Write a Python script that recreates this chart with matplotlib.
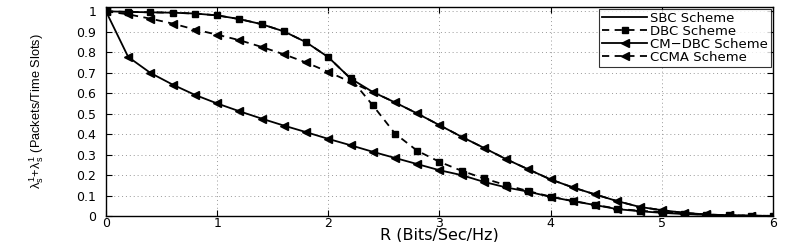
import matplotlib
matplotlib.use("Agg")
import matplotlib.pyplot as plt
import numpy as np

R = [0.0, 0.2, 0.4, 0.6, 0.8, 1.0, 1.2, 1.4, 1.6, 1.8, 2.0, 2.2, 2.4, 2.6, 2.8, 3.0,
     3.2, 3.4, 3.6, 3.8, 4.0, 4.2, 4.4, 4.6, 4.8, 5.0, 5.2, 5.4, 5.6, 5.8, 6.0]

sbc = [1.0, 0.997, 0.995, 0.993, 0.989, 0.980, 0.962, 0.937, 0.902, 0.849, 0.776, 0.672,
       0.606, 0.555, 0.501, 0.444, 0.387, 0.333, 0.278, 0.228, 0.179, 0.140, 0.106, 0.073,
       0.045, 0.029, 0.016, 0.008, 0.004, 0.002, 0.001]

dbc = [1.0, 0.997, 0.995, 0.993, 0.989, 0.980, 0.962, 0.937, 0.902, 0.849, 0.776, 0.672,
       0.541, 0.403, 0.319, 0.265, 0.221, 0.184, 0.151, 0.122, 0.095, 0.074, 0.055, 0.036,
       0.026, 0.020, 0.012, 0.007, 0.004, 0.002, 0.001]

cmdbc = [1.0, 0.777, 0.699, 0.642, 0.592, 0.550, 0.512, 0.476, 0.442, 0.410, 0.377, 0.346,
         0.314, 0.284, 0.254, 0.224, 0.200, 0.167, 0.140, 0.119, 0.094, 0.073, 0.054, 0.034,
         0.024, 0.016, 0.010, 0.006, 0.003, 0.001, 0.0]

ccma = [1.0, 0.985, 0.964, 0.940, 0.911, 0.886, 0.859, 0.826, 0.790, 0.750, 0.704, 0.655,
        0.606, 0.555, 0.501, 0.444, 0.387, 0.333, 0.278, 0.228, 0.179, 0.140, 0.106, 0.073,
        0.045, 0.029, 0.016, 0.008, 0.004, 0.002, 0.001]

labels = ["SBC Scheme", "DBC Scheme", "CM\u2212DBC Scheme", "CCMA Scheme"]
ytick_vals = [0.0, 0.1, 0.2, 0.3, 0.4, 0.5, 0.6, 0.7, 0.8, 0.9, 1.0]
ytick_labels = ['0', '0.1', '0.2', '0.3', '0.4', '0.5', '0.6', '0.7', '0.8', '0.9', '1']
xtick_vals = [0, 1, 2, 3, 4, 5, 6]

plt.rcParams['font.family'] = ['DejaVu Sans']
plt.rcParams['mathtext.fontset'] = 'custom'
plt.rcParams['mathtext.rm'] = 'Liberation Sans'
plt.rcParams['mathtext.it'] = 'Liberation Sans'

fig = plt.figure(figsize=(7.89, 2.42), dpi=100)
ax = fig.add_axes([0.1343, 0.107, 0.9797 - 0.1343, 0.972 - 0.107])

lw = 1.3
ax.plot(R, sbc, '-', color='black', lw=lw, label=labels[0])
ax.plot(R, dbc, '--', color='black', lw=lw, marker='s', ms=3.8, dashes=(4, 3), label=labels[1])
ax.plot(R, cmdbc, '-', color='black', lw=lw, marker='<', ms=5.5, label=labels[2])
ax.plot(R, ccma, '--', color='black', lw=lw, marker='<', ms=5.5, dashes=(4, 3), label=labels[3])

ax.set_xlim(0, 6)
ax.set_ylim(0, 1.022)
ax.set_xticks(xtick_vals)
ax.set_yticks(ytick_vals)
ax.set_yticklabels(ytick_labels)
ax.tick_params(axis='both', direction='in', labelsize=9, length=4, top=True, right=True)
ax.tick_params(axis='x', pad=1)
ax.tick_params(axis='y', pad=7)
ax.grid(True, linestyle=(0, (1, 3)), color='#999999', lw=0.7)
for s in ax.spines.values():
    s.set_linewidth(1.0)
    s.set_color('black')

ax.set_xlabel('R (Bits/Sec/Hz)', fontsize=11.5, labelpad=-2)
ax.set_ylabel(r'$\lambda_s^1\!+\!\lambda_s^1$ (Packets/Time Slots)', fontsize=9.2,
              family='Liberation Sans', labelpad=22)

leg = ax.legend(loc='upper right', fontsize=9.5, frameon=True, fancybox=False,
                edgecolor='black', handlelength=3.4, borderpad=0.25, labelspacing=0.0,
                handletextpad=0.2, borderaxespad=0.15)
leg.get_frame().set_linewidth(0.8)

fig.savefig('out.png', dpi=100)
